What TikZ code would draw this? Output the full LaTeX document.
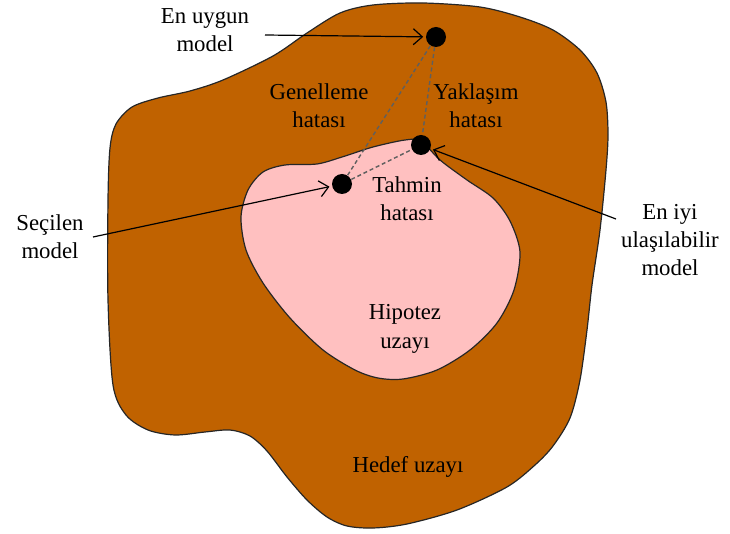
\documentclass[tikz,border=0pt]{standalone}
\usepackage{fontspec}
\setmainfont{Liberation Serif}
\usetikzlibrary{arrows.meta}
\definecolor{target}{RGB}{192,98,0}
\definecolor{hypo}{RGB}{255,192,192}
\definecolor{errline}{RGB}{95,95,95}
\begin{document}
\begin{tikzpicture}[x=0.5pt,y=-0.5pt,
  region/.style={draw=black!85, line width=0.6pt},
  model/.style={circle, fill=black, inner sep=0pt, minimum size=10pt},
  lbl/.style={align=center, font=\fontsize{11.4}{14.2}\selectfont, inner sep=0pt},
  errlink/.style={draw=errline, line width=0.7pt, dash pattern=on 2pt off 1.4pt},
  pointer/.style={draw=black, line width=0.6pt, -{Straight Barb[length=4.5pt,width=8pt]}, shorten >=1.2pt}]
\useasboundingbox (0,0) rectangle (730,534);

% target space
\filldraw[region, fill=target] plot[smooth cycle, tension=0.5] coordinates {
  (108,200) (110,148) (116,124) (132,107) (158,98) (190,91) (223,80) (273,56)
  (307,33) (340,13) (373,5) (423,3) (480,7) (520,17) (553,30) (580,50)
  (597,73) (606,102) (608,135) (606,170) (600,230) (592,285)
  (587,330) (580,380) (570,418) (553,446) (535,465) (507,487) (457,510)
  (407,524) (373,528) (347,526) (327,517) (307,500) (287,477) (267,451)
  (250,436) (230,430) (205,432) (175,435) (148,430) (126,415)
  (113,385) (108,300)};

% hypothesis space
\filldraw[region, fill=hypo] plot[smooth cycle, tension=0.5] coordinates {
  (421,141) (440,160) (467,180) (493,198) (510,221) (520,252)
  (514,290) (497,323) (470,350) (437,370) (403,379) (378,378) (355,370)
  (323,350) (290,318) (263,283) (246,250) (241,217) (248,190) (263,172)
  (285,165) (317,164) (342,157) (373,147) (405,140)};

% models
\node[model] (best) at (436,37) {};
\node[model] (reach) at (421,145) {};
\node[model] (chosen) at (342,184) {};

% error links
\draw[errlink] (best) -- (chosen);
\draw[errlink] (best) -- (reach);
\draw[errlink] (chosen) -- (reach);

% labels
\node[lbl] (tbest) at (205,30) {En uygun\\model};
\node[lbl] (tgen) at (319,106) {Genelleme\\hatası};
\node[lbl] (tapp) at (476,106) {Yaklaşım\\hatası};
\node[lbl] (test) at (407,199) {Tahmin\\hatası};
\node[lbl] (tchosen) at (50,237) {Seçilen\\model};
\node[lbl] (treach) at (670,240) {En iyi\\ulaşılabilir\\model};
\node[lbl] (thypo) at (405,329) {Hipotez\\uzayı};
\node[lbl] (ttarget) at (408,467) {Hedef uzayı};

% pointers
\coordinate (pbest) at (265,35);
\coordinate (pchosen) at (93,237);
\coordinate (preach) at (616,219);
\draw[pointer] (pbest) -- (best);
\draw[pointer] (pchosen) -- (chosen);
\draw[pointer] (preach) -- (reach);
\end{tikzpicture}
\end{document}
